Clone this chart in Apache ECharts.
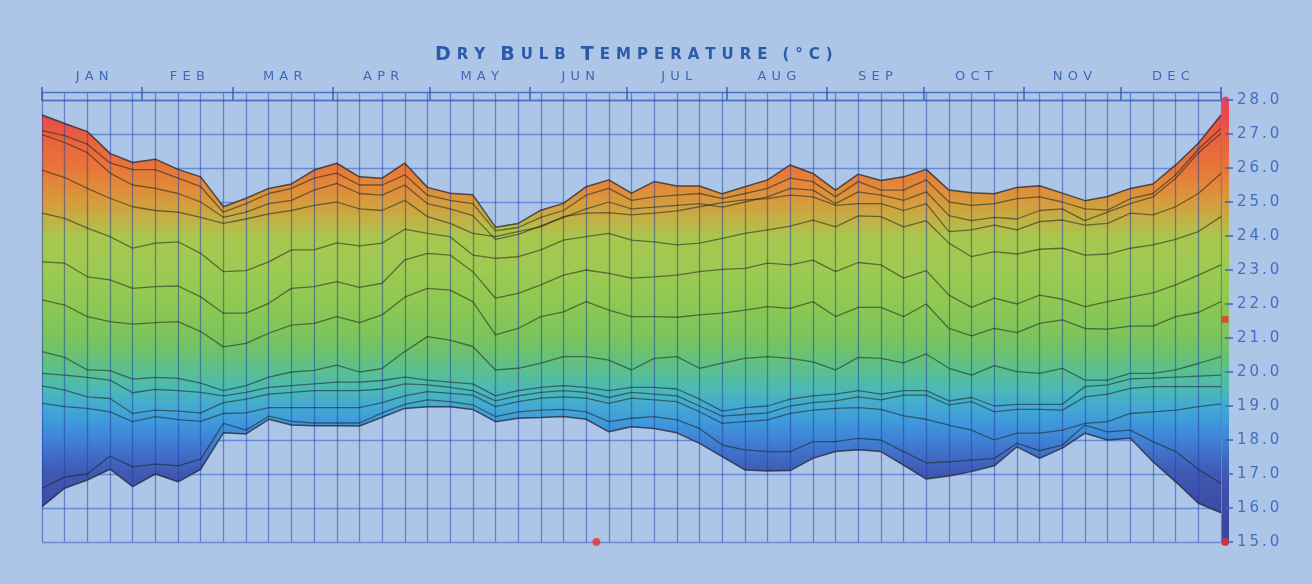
<!DOCTYPE html>
<html><head><meta charset="utf-8">
<script src="https://cdn.jsdelivr.net/npm/echarts@6/dist/echarts.min.js"></script>
<style>html,body{margin:0;padding:0;background:#adc6e7;}#c{width:1312px;height:584px;}</style>
</head><body><div id="c"></div>
<script>
// ---- data ----
const months = ['JAN','FEB','MAR','APR','MAY','JUN','JUL','AUG','SEP','OCT','NOV','DEC'];
const monthStartDays = [0,31,59,90,120,151,181,212,243,273,304,334,365];
const weekNumbers = [0,1,2,3,4,5,6,7,8,9,10,11,12,13,14,15,16,17,18,19,20,21,22,23,24,25,26,27,28,29,30,31,32,33,34,35,36,37,38,39,40,41,42,43,44,45,46,47,48,49,50,51,52];
const annualMean = 21.55;
const markerWeek = 24.45;

const tMax = [27.56,27.31,27.07,26.43,26.16,26.26,25.96,25.74,24.86,25.11,25.40,25.53,25.94,26.14,25.74,25.70,26.14,25.43,25.26,25.21,24.26,24.37,24.76,24.96,25.45,25.65,25.26,25.60,25.47,25.47,25.24,25.45,25.65,26.09,25.84,25.35,25.82,25.63,25.74,25.96,25.35,25.27,25.24,25.43,25.48,25.26,25.04,25.16,25.40,25.53,26.09,26.73,27.56];
const p1 = [27.10,26.95,26.70,26.15,25.95,25.95,25.70,25.45,24.70,24.95,25.25,25.40,25.70,25.85,25.50,25.50,25.80,25.20,25.05,24.95,24.15,24.25,24.55,24.75,25.20,25.40,25.05,25.15,25.20,25.25,25.10,25.25,25.40,25.70,25.60,25.15,25.60,25.35,25.35,25.65,25.00,24.90,24.95,25.10,25.15,25.00,24.80,24.76,25.10,25.25,25.80,26.55,27.17];
const p2 = [26.98,26.75,26.45,25.85,25.50,25.40,25.25,25.00,24.55,24.70,24.95,25.05,25.35,25.55,25.25,25.20,25.50,24.95,24.80,24.60,23.90,24.05,24.30,24.55,24.80,25.00,24.80,24.85,24.90,24.95,24.85,25.00,25.15,25.40,25.35,24.95,25.30,25.20,25.05,25.30,24.60,24.45,24.55,24.50,24.75,24.80,24.45,24.70,24.95,25.15,25.70,26.45,27.02];
const p3 = [25.94,25.72,25.40,25.11,24.86,24.75,24.70,24.55,24.37,24.50,24.65,24.75,24.90,25.00,24.80,24.75,25.05,24.57,24.37,24.08,23.98,24.13,24.27,24.57,24.67,24.69,24.62,24.67,24.74,24.86,24.98,25.06,25.10,25.20,25.15,24.90,24.95,24.95,24.75,24.95,24.13,24.18,24.32,24.18,24.42,24.47,24.32,24.37,24.67,24.62,24.86,25.25,25.84];
const p4 = [24.67,24.52,24.23,23.98,23.64,23.79,23.83,23.49,22.95,22.98,23.24,23.59,23.59,23.80,23.71,23.79,24.20,24.08,23.98,23.44,23.34,23.39,23.59,23.88,23.98,24.08,23.88,23.83,23.74,23.79,23.93,24.08,24.18,24.29,24.47,24.27,24.59,24.57,24.27,24.45,23.79,23.39,23.54,23.47,23.61,23.64,23.44,23.47,23.64,23.74,23.90,24.13,24.57];
const p5 = [23.24,23.20,22.80,22.71,22.46,22.51,22.53,22.21,21.73,21.73,22.02,22.46,22.51,22.66,22.49,22.61,23.30,23.49,23.44,22.95,22.17,22.31,22.56,22.85,23.00,22.90,22.76,22.80,22.85,22.95,23.02,23.05,23.20,23.15,23.29,22.95,23.22,23.15,22.76,22.98,22.26,21.90,22.17,22.00,22.26,22.14,21.92,22.07,22.20,22.33,22.56,22.85,23.15];
const p6 = [22.12,21.97,21.63,21.48,21.41,21.45,21.48,21.19,20.74,20.84,21.14,21.38,21.43,21.63,21.45,21.68,22.20,22.46,22.41,22.07,21.09,21.28,21.63,21.77,22.07,21.82,21.63,21.63,21.61,21.68,21.73,21.82,21.92,21.87,22.07,21.63,21.90,21.90,21.63,22.00,21.28,21.06,21.28,21.16,21.43,21.53,21.28,21.26,21.35,21.35,21.63,21.75,22.07];
const p7 = [20.60,20.43,20.06,20.04,19.79,19.84,19.81,19.67,19.45,19.60,19.85,20.00,20.05,20.20,20.00,20.10,20.60,21.04,20.94,20.75,20.06,20.11,20.26,20.45,20.45,20.35,20.06,20.40,20.45,20.11,20.26,20.40,20.45,20.40,20.30,20.06,20.43,20.40,20.27,20.53,20.11,19.91,20.19,20.01,19.96,20.11,19.76,19.76,19.96,19.96,20.06,20.25,20.45];
const p8 = [19.96,19.91,19.84,19.76,19.39,19.49,19.45,19.40,19.30,19.40,19.55,19.60,19.65,19.70,19.70,19.75,19.85,19.76,19.70,19.65,19.30,19.45,19.55,19.60,19.55,19.45,19.55,19.55,19.50,19.20,18.85,18.95,19.00,19.20,19.30,19.35,19.45,19.35,19.45,19.45,19.15,19.25,19.00,19.05,19.05,19.05,19.57,19.62,19.80,19.82,19.85,19.88,19.91];
const p9 = [19.59,19.47,19.27,19.22,18.78,18.88,18.85,18.80,19.10,19.20,19.35,19.40,19.45,19.45,19.45,19.50,19.65,19.62,19.55,19.45,19.15,19.30,19.40,19.45,19.40,19.25,19.40,19.35,19.30,19.00,18.70,18.75,18.80,19.00,19.10,19.15,19.27,19.18,19.32,19.32,19.03,19.13,18.83,18.90,18.90,18.88,19.27,19.35,19.52,19.57,19.57,19.57,19.57];
const p10 = [19.08,18.98,18.93,18.83,18.54,18.69,18.60,18.55,18.78,18.80,18.95,18.95,18.95,18.95,18.95,19.10,19.30,19.42,19.37,19.32,18.98,19.13,19.23,19.27,19.23,19.08,19.23,19.18,19.13,18.83,18.49,18.54,18.59,18.78,18.88,18.93,18.95,18.90,18.71,18.61,18.44,18.29,18.00,18.20,18.20,18.29,18.49,18.54,18.78,18.83,18.88,18.98,19.06];
const p11 = [16.58,16.91,17.00,17.53,17.21,17.29,17.24,17.44,18.49,18.29,18.70,18.55,18.50,18.50,18.50,18.80,19.05,19.18,19.13,19.03,18.69,18.83,18.88,18.90,18.83,18.54,18.64,18.69,18.59,18.34,17.85,17.71,17.66,17.66,17.95,17.95,18.05,18.00,17.66,17.33,17.36,17.41,17.46,17.90,17.69,17.85,18.44,18.24,18.29,17.95,17.66,17.14,16.73];
const tMin = [16.04,16.58,16.82,17.14,16.63,17.00,16.77,17.14,18.21,18.18,18.61,18.44,18.42,18.42,18.41,18.67,18.93,18.98,18.98,18.90,18.54,18.64,18.66,18.69,18.61,18.24,18.39,18.34,18.21,17.90,17.51,17.12,17.09,17.10,17.46,17.66,17.71,17.66,17.26,16.85,16.94,17.07,17.24,17.80,17.46,17.76,18.20,18.00,18.05,17.36,16.77,16.14,15.86];

// ---- build ----
const lines = [tMax,p1,p2,p3,p4,p5,p6,p7,p8,p9,p10,p11,tMin];
const WEEKS = 52, DAYS = 365;
const toWeek = d => d * WEEKS / DAYS;
const monthBounds = monthStartDays.map(toWeek);
const monthMids = months.map((m,i)=> (monthBounds[i]+monthBounds[i+1])/2);
const spaced = (s, sep) => s.split('').join(sep);

const G_TOP = 100, G_BOT = 542;
const stops = [
 [28,'#e8455a'],[27.5,'#e84b4a'],[27,'#e85e3f'],[26,'#e8763a'],[25.5,'#e28839'],[25,'#d69b3d'],
 [24.5,'#c2b046'],[24,'#aac64e'],[23,'#9dca52'],[22,'#8ec853'],[21,'#7ac45c'],[20.5,'#69c174'],
 [20,'#59bf93'],[19.5,'#4cb9b4'],[19,'#44aad2'],[18.5,'#3f98dc'],[18,'#3f82d4'],[17.5,'#406bc4'],
 [17,'#3f58b2'],[16,'#3d4aa4'],[15,'#3b459c']
];
const grad = () => ({type:'linear', x:0, y:G_TOP, x2:0, y2:G_BOT, global:true,
  colorStops: stops.map(([t,c])=>({offset:(28-t)/13, color:c}))});

const cats = weekNumbers.map(String);
const series = [];
series.push({type:'line', name:'base', xAxisIndex:0, yAxisIndex:0, stack:'band', symbol:'none', silent:true,
  lineStyle:{width:0, opacity:0}, data: tMin.slice(), z:2});
series.push({type:'line', name:'range', xAxisIndex:0, yAxisIndex:0, stack:'band', symbol:'none', silent:true,
  lineStyle:{width:0, opacity:0}, areaStyle:{color:grad(), opacity:1},
  data: tMax.map((v,i)=> +(v - tMin[i]).toFixed(3)), z:2});
lines.forEach((arr,k)=>{
  const edge = (k===0 || k===lines.length-1);
  series.push({type:'line', name:'L'+k, xAxisIndex:0, yAxisIndex:0, symbol:'none', silent:true,
    lineStyle:{color: edge ? 'rgba(35,35,45,0.75)' : 'rgba(25,35,30,0.55)', width: edge?1.5:1.3},
    data: arr.slice(), z:4});
});
series.push({type:'scatter', xAxisIndex:4, yAxisIndex:1, symbol:'rect', symbolSize:[7,7], symbolOffset:[4,0],
  itemStyle:{color:'#e8322e'}, data:[[WEEKS, annualMean]], z:8, silent:true});
series.push({type:'scatter', xAxisIndex:4, yAxisIndex:1, symbol:'circle', symbolSize:8, symbolOffset:[4,0],
  itemStyle:{color:'#e8322e'}, data:[[WEEKS, 15]], z:8, silent:true});
series.push({type:'scatter', xAxisIndex:4, yAxisIndex:1, symbol:'circle', symbolSize:8,
  itemStyle:{color:'#e8322e'}, data:[[markerWeek, 15]], z:8, silent:true});

const T2 = '\u2009\u2009';
const VGRID = 'rgba(30,60,170,0.5)';
const chart = echarts.init(document.getElementById('c'), null, {renderer:'canvas'});
chart.setOption({
  backgroundColor:'#adc6e7',
  animation:false,
  title:{
    text:'{b|D}{s|'+T2+spaced('RY',T2)+'}   {b|B}{s|'+T2+spaced('ULB',T2)+'}   {b|T}{s|'+T2+spaced('EMPERATURE',T2)+'}   {s|'+spaced('(°C)',T2)+'}',
    left:430, top:41,
    textStyle:{rich:{
      b:{fontFamily:'DejaVu Sans', fontSize:19, fontWeight:'bold', color:'#2a5aa8'},
      s:{fontFamily:'DejaVu Sans', fontSize:15, fontWeight:'bold', color:'#2a5aa8'}
    }}
  },
  grid:[
    {left:42, right:91, top:G_TOP, bottom:584-G_BOT},
    {left:42, right:91, top:92, height:8}
  ],
  xAxis:[
    {gridIndex:0, type:'category', data:cats, boundaryGap:false, z:3,
     axisLine:{show:false}, axisTick:{show:false}, axisLabel:{show:false},
     splitLine:{show:true, interval:0, lineStyle:{color:VGRID, width:1.3}}},
    {gridIndex:1, type:'value', min:0, max:WEEKS, position:'bottom',
     axisLine:{show:true, lineStyle:{color:'#4a72c4', width:1.3}},
     axisTick:{show:true, inside:true, length:13, customValues:monthBounds, lineStyle:{color:'#3a62b8', width:1.5}},
     axisLabel:{show:false}, splitLine:{show:false}},
    {gridIndex:1, type:'value', min:0, max:WEEKS, position:'top',
     axisLine:{show:true, lineStyle:{color:'#4a72c4', width:1.3}},
     axisTick:{show:false},
     axisLabel:{show:true, customValues:monthMids, margin:9, color:'#3d6ab8', fontFamily:'DejaVu Sans', fontSize:13,
       formatter:(v)=>{ let idx=0, best=1e9; monthMids.forEach((m,i)=>{ if(Math.abs(m-v)<best){best=Math.abs(m-v); idx=i;} }); return spaced(months[idx], T2); }},
     splitLine:{show:false}},
    {gridIndex:1, type:'value', min:0, max:WEEKS, interval:1,
     axisLine:{show:false}, axisTick:{show:false}, axisLabel:{show:false},
     splitLine:{show:true, lineStyle:{color:VGRID, width:1.3}}},
    {gridIndex:0, type:'value', min:0, max:WEEKS, show:false}
  ],
  yAxis:[
    {gridIndex:0, type:'value', position:'right', min:15, max:28, interval:1,
     axisLine:{show:false}, axisTick:{show:false}, axisLabel:{show:false},
     splitLine:{show:true, lineStyle:{color:'rgba(50,90,200,0.55)', width:1.3}}},
    {gridIndex:0, type:'value', position:'right', min:15, max:28, interval:1, offset:4, z:6,
     axisLine:{show:true, lineStyle:{color:grad(), width:7}},
     axisTick:{show:true, length:8, lineStyle:{color:'#3d66b5', width:1.5}},
     axisLabel:{show:true, margin:12, color:'#3f6fc0', fontFamily:'DejaVu Sans', fontSize:15,
       formatter:(v)=> spaced(v.toFixed(1), '\u2009')},
     splitLine:{show:false}},
    {gridIndex:1, type:'value', min:0, max:1, show:false}
  ],
  series: series
});
</script></body></html>
